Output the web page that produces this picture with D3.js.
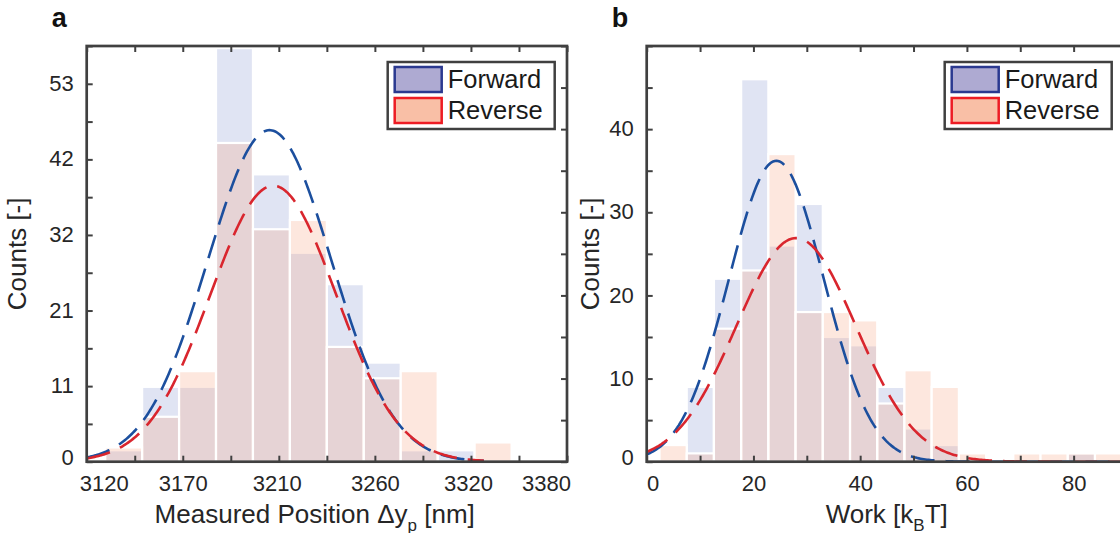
<!DOCTYPE html>
<html>
<head>
<meta charset="utf-8">
<script src="https://cdn.jsdelivr.net/npm/d3@7"></script>
<style>
    body { margin: 0; background: #fff; }
    svg { display: block; font-family: "Liberation Sans", Arial, sans-serif; }
</style>
</head>
<body>
<svg id="chart" width="1120" height="533"></svg>
<script>
// ---- panel a : measured position ----
const edgesA = [3130, 3150, 3170, 3190, 3210, 3230, 3250, 3270, 3290, 3310, 3330, 3350];
const forwardA = [1.6, 10.5, 10.5, 58, 40.3, 29.3, 24.9, 13.9, 1.6, 1.6, 0];
const reverseA = [2.0, 6.3, 12.7, 44.7, 32.6, 33.9, 16.1, 11.7, 12.7, 0, 2.7];
const xTickLabelsA = ["3120", "3170", "3210", "3260", "3320", "3380"];
const yTickLabelsA = ["0", "11", "21", "32", "42", "53"];
// gaussian fits: amplitude, mean, sigma
const fitForwardA = [46.5, 3219, 33.5];
const fitReverseA = [38.7, 3221, 34];

// ---- panel b : work ----
const edgesB = [2.4, 7.5, 12.6, 17.7, 22.8, 27.9, 33.0, 38.1, 43.2, 48.3, 53.4, 58.5, 63.6, 68.7, 73.8, 78.9, 84.0, 89.1];
const forwardB = [0, 9, 22, 46, 26, 31, 15, 14, 9, 4, 2, 0, 0, 0, 0, 1, 0];
const reverseB = [2, 1, 16, 23, 37, 18, 18, 17, 7, 11, 9, 1, 0, 1, 1, 1, 1];
const xTickLabelsB = ["0", "20", "40", "60", "80"];
const yTickLabelsB = ["0", "10", "20", "30", "40"];
const fitForwardB = [36.2, 24.3, 8.9];
const fitReverseB = [26.9, 28.0, 11.2];

const seriesNames = ["Forward", "Reverse"];

const barColors = ["#8897d1", "#f7a380"];
const lineColors = ["#1c4f9e", "#d9262e"];
const swatchFill = ["#aeaad2", "#f9bfa6"];
const swatchStroke = ["#2b3990", "#ed1c24"];
const frameColor = "#404040";
const textColor = "#262626";

const svg = d3.select("#chart");

function drawPanel(o) {
    const g = svg.append("g").attr("transform", `translate(${o.left},${o.top})`);
    const x = d3.scaleLinear().domain(o.xDomain).range([0, o.w]);
    const y = d3.scaleLinear().domain(o.yDomain).range([o.h, 0]);

    svg.append("clipPath").attr("id", o.id + "-clip")
      .append("rect").attr("width", o.w).attr("height", o.h);

    const plot = g.append("g").attr("clip-path", `url(#${o.id}-clip)`);

    // histograms, forward underneath
    [o.forward, o.reverse].forEach((vals, s) => {
        plot.append("g")
          .selectAll("rect")
          .data(vals.map((v, i) => ({x0: o.edges[i], x1: o.edges[i + 1], v})).filter(d => d.v > 0))
          .join("rect")
            .attr("x", d => x(d.x0))
            .attr("width", d => x(d.x1) - x(d.x0))
            .attr("y", d => y(d.v))
            .attr("height", d => y(0) - y(d.v))
            .attr("fill", barColors[s])
            .attr("fill-opacity", 0.26)
            .attr("stroke", "#fff")
            .attr("stroke-width", 2.2);
    });

    // fitted curves
    const line = d3.line().x(d => x(d[0])).y(d => y(d[1]));
    [o.fitF, o.fitR].forEach((p, s) => {
        const step = (o.fitRange[1] - o.fitRange[0]) / 300;
        const pts = d3.range(o.fitRange[0], o.fitRange[1] + step / 2, step)
            .map(t => [t, p[0] * Math.exp(-((t - p[1]) ** 2) / (2 * p[2] * p[2]))]);
        plot.append("path")
            .attr("d", line(pts))
            .attr("fill", "none")
            .attr("stroke", lineColors[s])
            .attr("stroke-width", 2.6)
            .attr("stroke-dasharray", "24,11");
    });

    // tick marks (inward) on all four sides
    const tickMarks = (axis, tr) => {
        const a = g.append("g").attr("transform", tr).call(axis.tickFormat("").tickSizeOuter(0));
        a.select(".domain").remove();
        a.selectAll("line").attr("stroke", frameColor).attr("stroke-width", 2);
    };
    tickMarks(d3.axisLeft(y).tickValues(o.yTicksLeft).tickSize(-6), null);
    tickMarks(d3.axisRight(y).tickValues(o.yTicksRight).tickSize(-6), `translate(${o.w},0)`);
    tickMarks(d3.axisBottom(x).tickValues(o.xTicks).tickSize(-6), `translate(0,${o.h})`);
    tickMarks(d3.axisTop(x).tickValues(o.xTicks).tickSize(-6), null);

    // tick labels
    const yLab = g.append("g")
        .call(d3.axisLeft(y).tickValues(o.yLabelValues).tickSize(0).tickPadding(13)
            .tickFormat((d, i) => o.yLabels[i]));
    yLab.select(".domain").remove();
    yLab.selectAll("text").attr("font-size", 22).attr("fill", textColor)
        .attr("font-family", "Liberation Sans, Arial, sans-serif")
        .attr("dy", (d, i) => i === 0 ? "0.12em" : "0.3em");

    const xLab = g.append("g").attr("transform", `translate(0,${o.h})`)
        .call(d3.axisBottom(x).tickValues(o.xLabelValues).tickSize(0).tickPadding(14)
            .tickFormat((d, i) => o.xLabels[i]));
    xLab.select(".domain").remove();
    xLab.selectAll("text").attr("font-size", 22).attr("fill", textColor)
        .attr("font-family", "Liberation Sans, Arial, sans-serif")
        .attr("dx", (d, i) => o.xLabelShift[i] || 0);

    // frame
    g.append("rect").attr("width", o.w).attr("height", o.h)
        .attr("fill", "none").attr("stroke", frameColor).attr("stroke-width", 2.7);

    // axis titles
    g.append("text")
        .attr("transform", `translate(${o.yTitleX},${o.h / 2}) rotate(-90)`)
        .attr("text-anchor", "middle").attr("font-size", 26).attr("fill", textColor)
        .text("Counts [-]");

    const xt = g.append("text")
        .attr("x", o.xTitleX).attr("y", o.h + 61)
        .attr("text-anchor", "middle").attr("font-size", 26).attr("fill", textColor);
    xt.append("tspan").text(o.xTitle[0]);
    xt.append("tspan").attr("font-size", 17).attr("dy", 8).text(o.xTitle[1]);
    xt.append("tspan").attr("dy", -8).text(o.xTitle[2]);

    // panel letter
    svg.append("text").attr("x", o.left - 35).attr("y", 27)
        .attr("font-size", 27).attr("font-weight", "bold").attr("fill", "#111")
        .text(o.letter);

    // legend
    const lg = g.append("g").attr("transform", `translate(${o.legendX},16)`);
    lg.append("rect").attr("width", 167).attr("height", 67)
        .attr("fill", "#fff").attr("stroke", frameColor).attr("stroke-width", 2.5);
    seriesNames.forEach((name, s) => {
        const row = lg.append("g").attr("transform", `translate(7,${5 + s * 31})`);
        row.append("rect").attr("width", 47).attr("height", 25)
            .attr("fill", swatchFill[s]).attr("stroke", swatchStroke[s]).attr("stroke-width", 2.5);
        row.append("text").attr("x", 53).attr("y", 21)
            .attr("font-size", 25.5).attr("fill", "#1a1a1a").text(name);
    });
}

const yMaxA = 58.3, yStepA = 5.3;
drawPanel({
    id: "pa", letter: "a",
    left: 86.7, top: 46, w: 480.3, h: 415.7,
    xDomain: [3120, 3380], yDomain: [0, yMaxA],
    edges: edgesA, forward: forwardA, reverse: reverseA,
    fitF: fitForwardA, fitR: fitReverseA, fitRange: [3120, 3335],
    xTicks: d3.range(0, 11).map(i => 3120 + i * 26),
    xLabelValues: xTickLabelsA.map((_, i) => 3120 + i * 52),
    xLabels: xTickLabelsA, xLabelShift: [17, 0, -2, 0, -3, -21],
    yTicksLeft: d3.range(0, 12).map(i => i * yStepA),
    yTicksRight: d3.range(0, 11).map(i => i * yMaxA / 10),
    yLabelValues: yTickLabelsA.map((_, i) => i * 2 * yStepA),
    yLabels: yTickLabelsA,
    yTitleX: -61, xTitleX: 228,
    xTitle: ["Measured Position \u0394y", "p", " [nm]"],
    legendX: 301
});

drawPanel({
    id: "pb", letter: "b",
    left: 646.7, top: 46, w: 480.3, h: 415.7,
    xDomain: [0, 90], yDomain: [0, 50],
    edges: edgesB, forward: forwardB, reverse: reverseB,
    fitF: fitForwardB, fitR: fitReverseB, fitRange: [0, 90],
    xTicks: d3.range(0, 10).map(i => i * 10),
    xLabelValues: xTickLabelsB.map((_, i) => i * 20),
    xLabels: xTickLabelsB, xLabelShift: [6, 0, 0, 0, 0],
    yTicksLeft: d3.range(0, 11).map(i => i * 5),
    yTicksRight: [],
    yLabelValues: yTickLabelsB.map((_, i) => i * 10),
    yLabels: yTickLabelsB,
    yTitleX: -48, xTitleX: 240,
    xTitle: ["Work [k", "B", "T]"],
    legendX: 298
});
</script>
</body>
</html>
